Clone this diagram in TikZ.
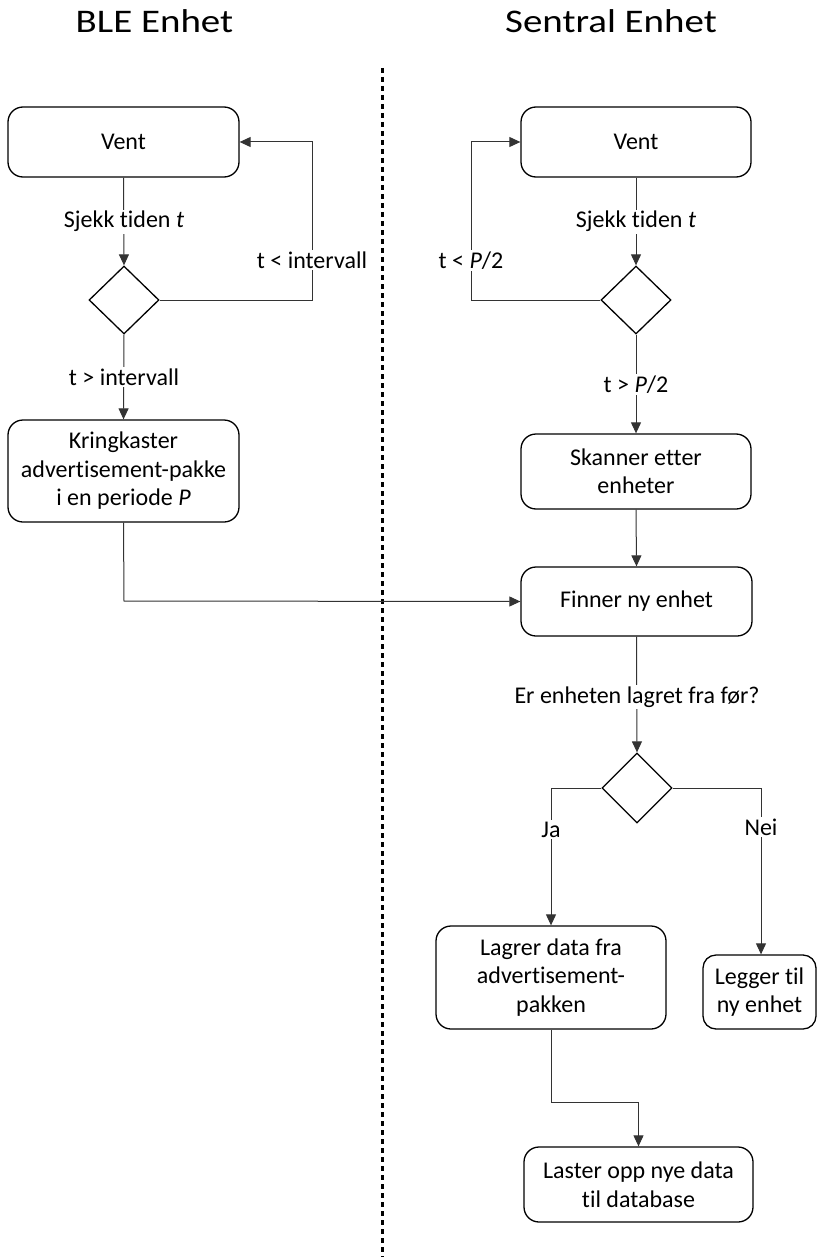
\documentclass[tikz,border=0pt]{standalone}
\usepackage{fontspec}
\setmainfont{Carlito}[Ligatures=NoCommon]
\usetikzlibrary{shapes.geometric,arrows.meta}
\begin{document}
\begin{tikzpicture}[x=1pt,y=-1pt,
  every node/.style={font=\fontsize{24}{28.5}\selectfont},
  proc/.style={draw=black,line width=1.3pt,rounded corners=15pt,align=center,inner sep=0pt,fill=white},
  dec/.style={draw=black,line width=1.3pt,diamond,inner sep=0pt,minimum width=70pt,minimum height=68pt},
  conn/.style={draw=black!80,line width=1pt},
  arr/.style={conn,-{Triangle[length=11pt,width=10pt]}},
  lbl/.style={fill=white,inner sep=1.5pt,anchor=base},
  ttl/.style={font=\fontsize{33}{40}\selectfont,anchor=base},
  sep/.style={line width=3pt,dash pattern=on 5pt off 4pt}
]
\useasboundingbox (0,0) rectangle (817,1257);
% titles
\node[ttl] (t1) at (154.5,33) {\scalebox{1.18}[1]{BLE Enhet}};
\node[ttl] (t2) at (611,33) {\scalebox{1.18}[1]{Sentral Enhet}};
% separator
\coordinate (s1) at (382,68);
\coordinate (s2) at (382,1257);
\draw[sep] (s1) -- (s2);
% left column
\node[proc,minimum width=231pt,minimum height=70pt] (bvent) at (123.5,142) {Vent};
\node[dec] (bdia) at (124,300) {};
\node[proc,minimum width=231pt,minimum height=102pt] (bkring) at (123.5,471) {Kringkaster\\advertisement-pakke\\i en periode \textit{P}};
% right column
\node[proc,minimum width=230pt,minimum height=70pt] (cvent) at (636,142) {Vent};
\node[dec] (cdia) at (636,300) {};
\node[proc,minimum width=230pt,minimum height=75pt] (cskan) at (636,471.5) {Skanner etter\\enheter};
\node[proc,minimum width=231pt,minimum height=69pt] (cfinn) at (636.5,601.5) {Finner ny enhet};
\node[dec,minimum height=70pt] (cdia2) at (637,788) {};
\node[proc,minimum width=230pt,minimum height=103pt] (clag) at (551,977.5) {Lagrer data fra\\advertisement-\\pakken};
\node[proc,minimum width=113pt,minimum height=74pt,rounded corners=13pt] (cleg) at (759.5,992) {Legger til\\ny enhet};
\node[proc,minimum width=229pt,minimum height=75pt] (clast) at (638.5,1184.5) {Laster opp nye data\\til database};
% left connectors
\draw[arr] (bvent.south) -- (bdia.north);
\node[lbl] (l1) at (124,228) {Sjekk tiden \textit{t}};
\coordinate (b1) at (312,300);
\coordinate (b2) at (312,142);
\draw[arr] (bdia.east) -- (b1) -- (b2) -- (bvent.east);
\node[lbl] (l2) at (312,268) {t < intervall};
\draw[arr] (bdia.south) -- (bkring.north);
\node[lbl] (l3) at (124,385) {t > intervall};
\coordinate (b3) at (124,601);
\draw[arr] (bkring.south) -- (b3) -- (cfinn.west);
% right connectors
\draw[arr] (cvent.south) -- (cdia.north);
\node[lbl] (l4) at (636,228) {Sjekk tiden \textit{t}};
\coordinate (c1) at (471,300);
\coordinate (c2) at (471,142);
\draw[arr] (cdia.west) -- (c1) -- (c2) -- (cvent.west);
\node[lbl] (l5) at (471,268) {t < \textit{P}/2};
\draw[arr] (cdia.south) -- (cskan.north);
\node[lbl] (l6) at (636,392) {t > \textit{P}/2};
\draw[arr] (cskan.south) -- (cfinn.north);
\draw[arr] (cfinn.south) -- (cdia2.north);
\node[lbl] (l7) at (637,703) {Er enheten lagret fra før?};
\coordinate (c3) at (551,788);
\draw[arr] (cdia2.west) -- (c3) -- (clag.north);
\node[lbl] (l8) at (551,837) {Ja};
\coordinate (c4) at (761,788);
\draw[arr] (cdia2.east) -- (c4) -- (cleg.north -| c4);
\node[lbl] (l9) at (761,835) {Nei};
\coordinate (c5) at (551,1102);
\coordinate (c6) at (638.5,1102);
\draw[arr] (clag.south) -- (c5) -- (c6) -- (clast.north);
\end{tikzpicture}
\end{document}
